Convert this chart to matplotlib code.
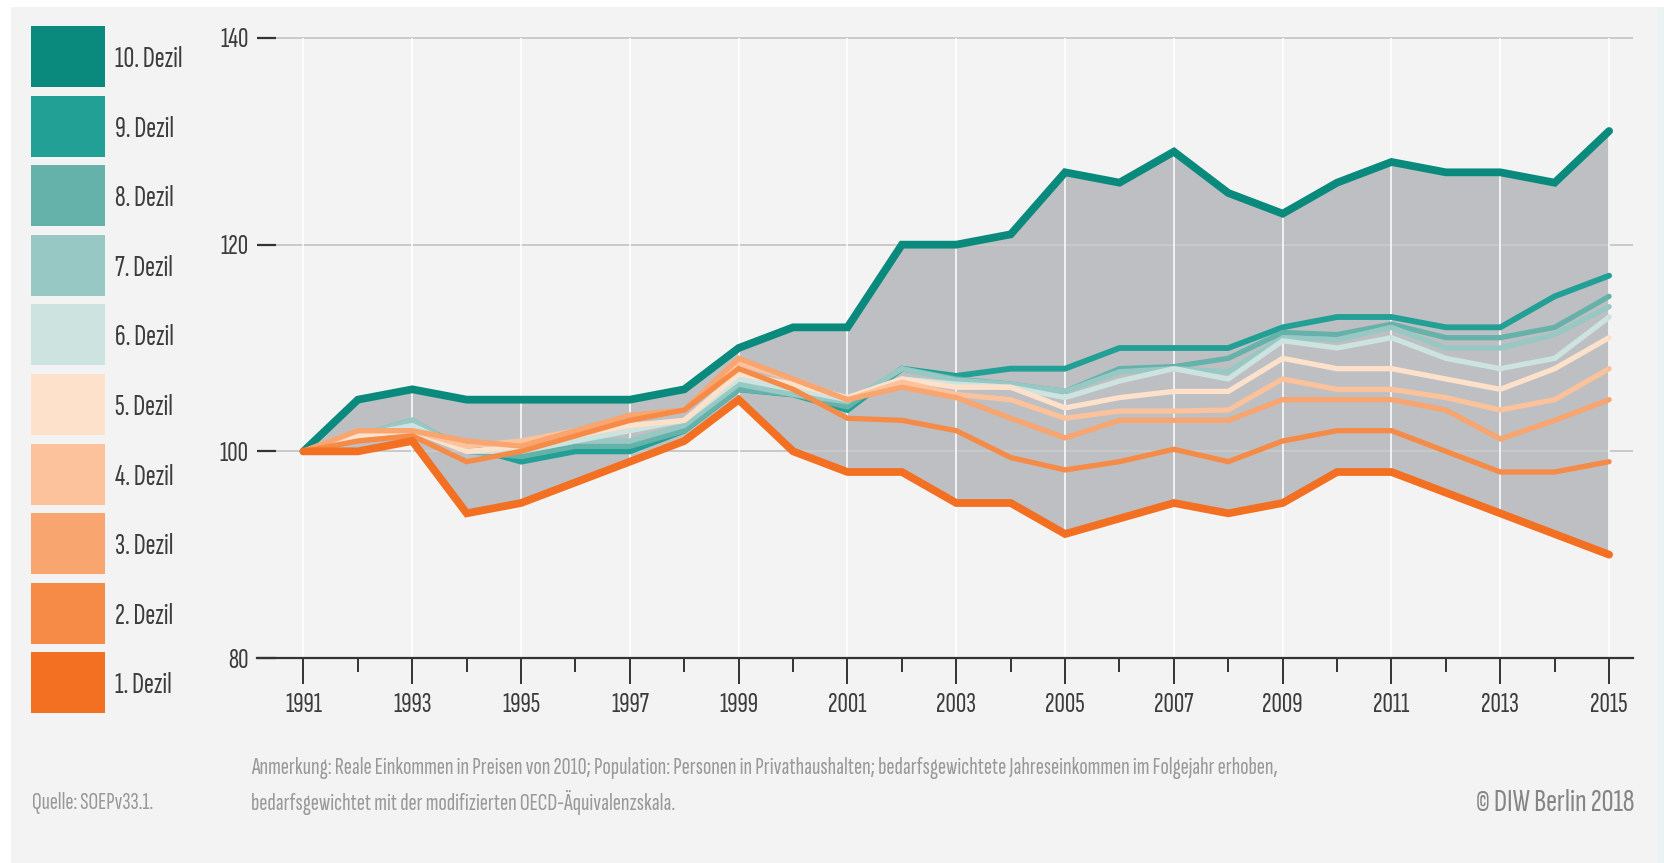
import matplotlib
matplotlib.use("Agg")
import matplotlib.pyplot as plt
from matplotlib.patches import Rectangle

FONT = ['Sofia Sans Extra Condensed', 'DejaVu Sans']
plt.rcParams['font.family'] = FONT
plt.rcParams['font.weight'] = 'normal'

years = list(range(1991, 2016))

d10 = [100, 105, 106, 105, 105, 105, 105, 106, 110, 112, 112, 120, 120, 121, 127, 126, 129, 125, 123, 126, 128, 127, 127, 126, 131]
d9 = [100, 101.5, 102.5, 100.5, 99, 100, 100, 102, 106, 105.5, 104, 108, 107.3, 108, 108, 110, 110, 110, 112, 113, 113, 112, 112, 115, 117]
d8 = [100, 101.5, 103, 100, 99.5, 100.5, 100.5, 102, 106, 105.5, 104.3, 108, 107, 106.5, 105.8, 108, 108.2, 109, 111.5, 111.3, 112.3, 111, 111, 112, 115]
d7 = [100, 101.5, 103, 100, 100, 101, 101, 102.5, 106.5, 105.5, 104.8, 108, 106.9, 106.5, 105.8, 107.7, 108, 107.7, 111, 110.8, 112, 110, 110, 111.3, 114]
d6 = [100, 101.5, 102.5, 100, 100, 101, 102, 103, 107, 106, 105, 107, 106.5, 106.2, 105.2, 106.8, 108, 107, 110.7, 110, 111, 109, 108, 109, 113]
d5 = [100, 101.5, 102, 100, 100.5, 101.5, 102.5, 103, 107.5, 106.5, 105.2, 107, 106.2, 106.2, 104.2, 105.2, 105.8, 105.8, 109, 108, 108, 107, 106, 108, 111]
d4 = [100, 102, 102, 100.5, 101, 102, 103, 104, 108.5, 107, 105, 106.7, 105.5, 105, 103.2, 103.9, 103.9, 104, 107, 106, 106, 105.2, 104, 105, 108]
d3 = [100, 102, 102, 101, 100.5, 102, 103.5, 104, 109, 107, 105, 106.2, 105.2, 103.2, 101.3, 103, 103, 103, 105, 105, 105, 104, 101.2, 103, 105]
d2 = [100, 101, 101.5, 99, 100, 101.5, 103, 104, 108, 106, 103.2, 103, 102, 99.4, 98.2, 99, 100.2, 99, 101, 102, 102, 100, 98, 98, 99]
d1 = [100, 100, 101, 94, 95, 97, 99, 101, 105, 100, 98, 98, 95, 95, 92, 93.5, 95, 94, 95, 98, 98, 96, 94, 92, 90]

labels = ["10. Dezil", "9. Dezil", "8. Dezil", "7. Dezil", "6. Dezil",
          "5. Dezil", "4. Dezil", "3. Dezil", "2. Dezil", "1. Dezil"]
series = [d10, d9, d8, d7, d6, d5, d4, d3, d2, d1]
colors = ["#098a7c", "#22a096", "#65b2ab", "#98c8c3", "#cce3e0",
          "#fde1ca", "#fcc29c", "#f9a570", "#f68b48", "#f37022"]
widths = [5.6, 4.2, 3.8, 3.8, 3.8, 3.8, 3.8, 3.8, 3.8, 5.6]

yticks = [80, 100, 120, 140]
note1 = ("Anmerkung: Reale Einkommen in Preisen von 2010; Population: Personen in Privathaushalten; "
         "bedarfsgewichtete Jahreseinkommen im Folgejahr erhoben,")
note2 = "bedarfsgewichtet mit der modifizierten OECD-Äquivalenzskala."
source = "Quelle: SOEPv33.1."
copyright_txt = "© DIW Berlin 2018"

W, H = 1664, 863
fig = plt.figure(figsize=(W / 100, H / 100), dpi=100, facecolor="white")
renderer = fig.canvas.get_renderer()


def fit(t, target_px):
    w = t.get_window_extent(renderer).width
    t.set_fontsize(t.get_fontsize() * target_px / w)
    return t.get_fontsize()


# panel background
fig.add_artist(Rectangle((11 / W, 0), (1658 - 11) / W, (H - 7) / H,
                         transform=fig.transFigure, facecolor="#f3f3f3",
                         edgecolor="none", zorder=0))
fig.add_artist(Rectangle((1658 / W, 0), (W - 1658) / W, (H - 7) / H,
                         transform=fig.transFigure, facecolor="#ebf2f4",
                         edgecolor="none", zorder=0))

ax_l, ax_r, ax_t, ax_b = 257, 1633, 38, 658
ax = fig.add_axes([ax_l / W, (H - ax_b) / H, (ax_r - ax_l) / W, (ax_b - ax_t) / H])
ax.set_facecolor("none")

px_per_year = 54.4
x0 = 1991 + (ax_l - 303.5) / px_per_year
x1 = 1991 + (ax_r - 303.5) / px_per_year
ax.set_xlim(x0, x1)
ax.set_ylim(80, 140)

ax.fill_between(years, d1, d10, color="#bdbfc2", linewidth=0, zorder=1)

grid_start = 1991 + (276 - 303.5) / px_per_year
for yv in yticks[1:]:
    ax.plot([grid_start, x1], [yv, yv], color="#c9c9c9", lw=1.4, zorder=2,
            clip_on=False, solid_capstyle="butt")
for yr in years[::2]:
    ax.plot([yr, yr], [80, 140], color="white", lw=1.1, zorder=2,
            solid_capstyle="butt")

for i, (s, c, w) in enumerate(zip(series, colors, widths)):
    ax.plot(years, s, color=c, lw=w, zorder=3 + i,
            solid_joinstyle="miter", solid_capstyle="round")

for sp in ["top", "right", "left"]:
    ax.spines[sp].set_visible(False)
ax.spines["bottom"].set_color("#333333")
ax.spines["bottom"].set_linewidth(1.6)
ax.spines["bottom"].set_zorder(20)

probe = fig.text(0, 0, "1991", fontsize=20)
tick_fs = fit(probe, 37)
probe.remove()

ax.set_yticks(yticks)
ax.set_yticklabels([str(v) for v in yticks])
ax.tick_params(axis="y", direction="in", length=13.5, width=1.6, color="#333333",
               pad=6, labelsize=tick_fs, labelcolor="#3c3c3c")
ax.set_xticks(years[::2])
ax.set_xticklabels([str(y) for y in years[::2]])
ax.set_xticks(years[1::2], minor=True)
ax.tick_params(axis="x", which="major", direction="out", length=19, width=1.4,
               color="#333333", pad=6, labelsize=tick_fs, labelcolor="#3c3c3c")
ax.tick_params(axis="x", which="minor", direction="out", length=10, width=1.4,
               color="#333333")

probe = fig.text(0, 0, labels[0], fontsize=20)
leg_fs = fit(probe, 68)
probe.remove()
top0, pitch, bh = 26, 69.6, 61
for i, (lab, c) in enumerate(zip(labels, colors)):
    ytop = top0 + i * pitch
    fig.add_artist(Rectangle((31 / W, (H - ytop - bh) / H), (105 - 31) / W, bh / H,
                             transform=fig.transFigure, facecolor=c,
                             edgecolor="none", zorder=1))
    fig.text(115 / W, (H - ytop - bh / 2 - 3) / H, lab, ha="left", va="center",
             fontsize=leg_fs, color="#3c3c3c")

t1 = fig.text(251 / W, (H - 768) / H, note1, ha="left", va="center", fontsize=14,
              color="#999999")
note_fs = fit(t1, 1024)
fig.text(251 / W, (H - 802) / H, note2, ha="left", va="center", fontsize=note_fs,
         color="#999999")
t3 = fig.text(32 / W, (H - 803) / H, source, ha="left", va="center", fontsize=14,
              color="#999999")
fit(t3, 122)
t4 = fig.text(1634 / W, (H - 803) / H, copyright_txt, ha="right", va="center",
              fontsize=17, color="#858585")
fit(t4, 159)

fig.savefig("out.png", dpi=100, facecolor="white")
